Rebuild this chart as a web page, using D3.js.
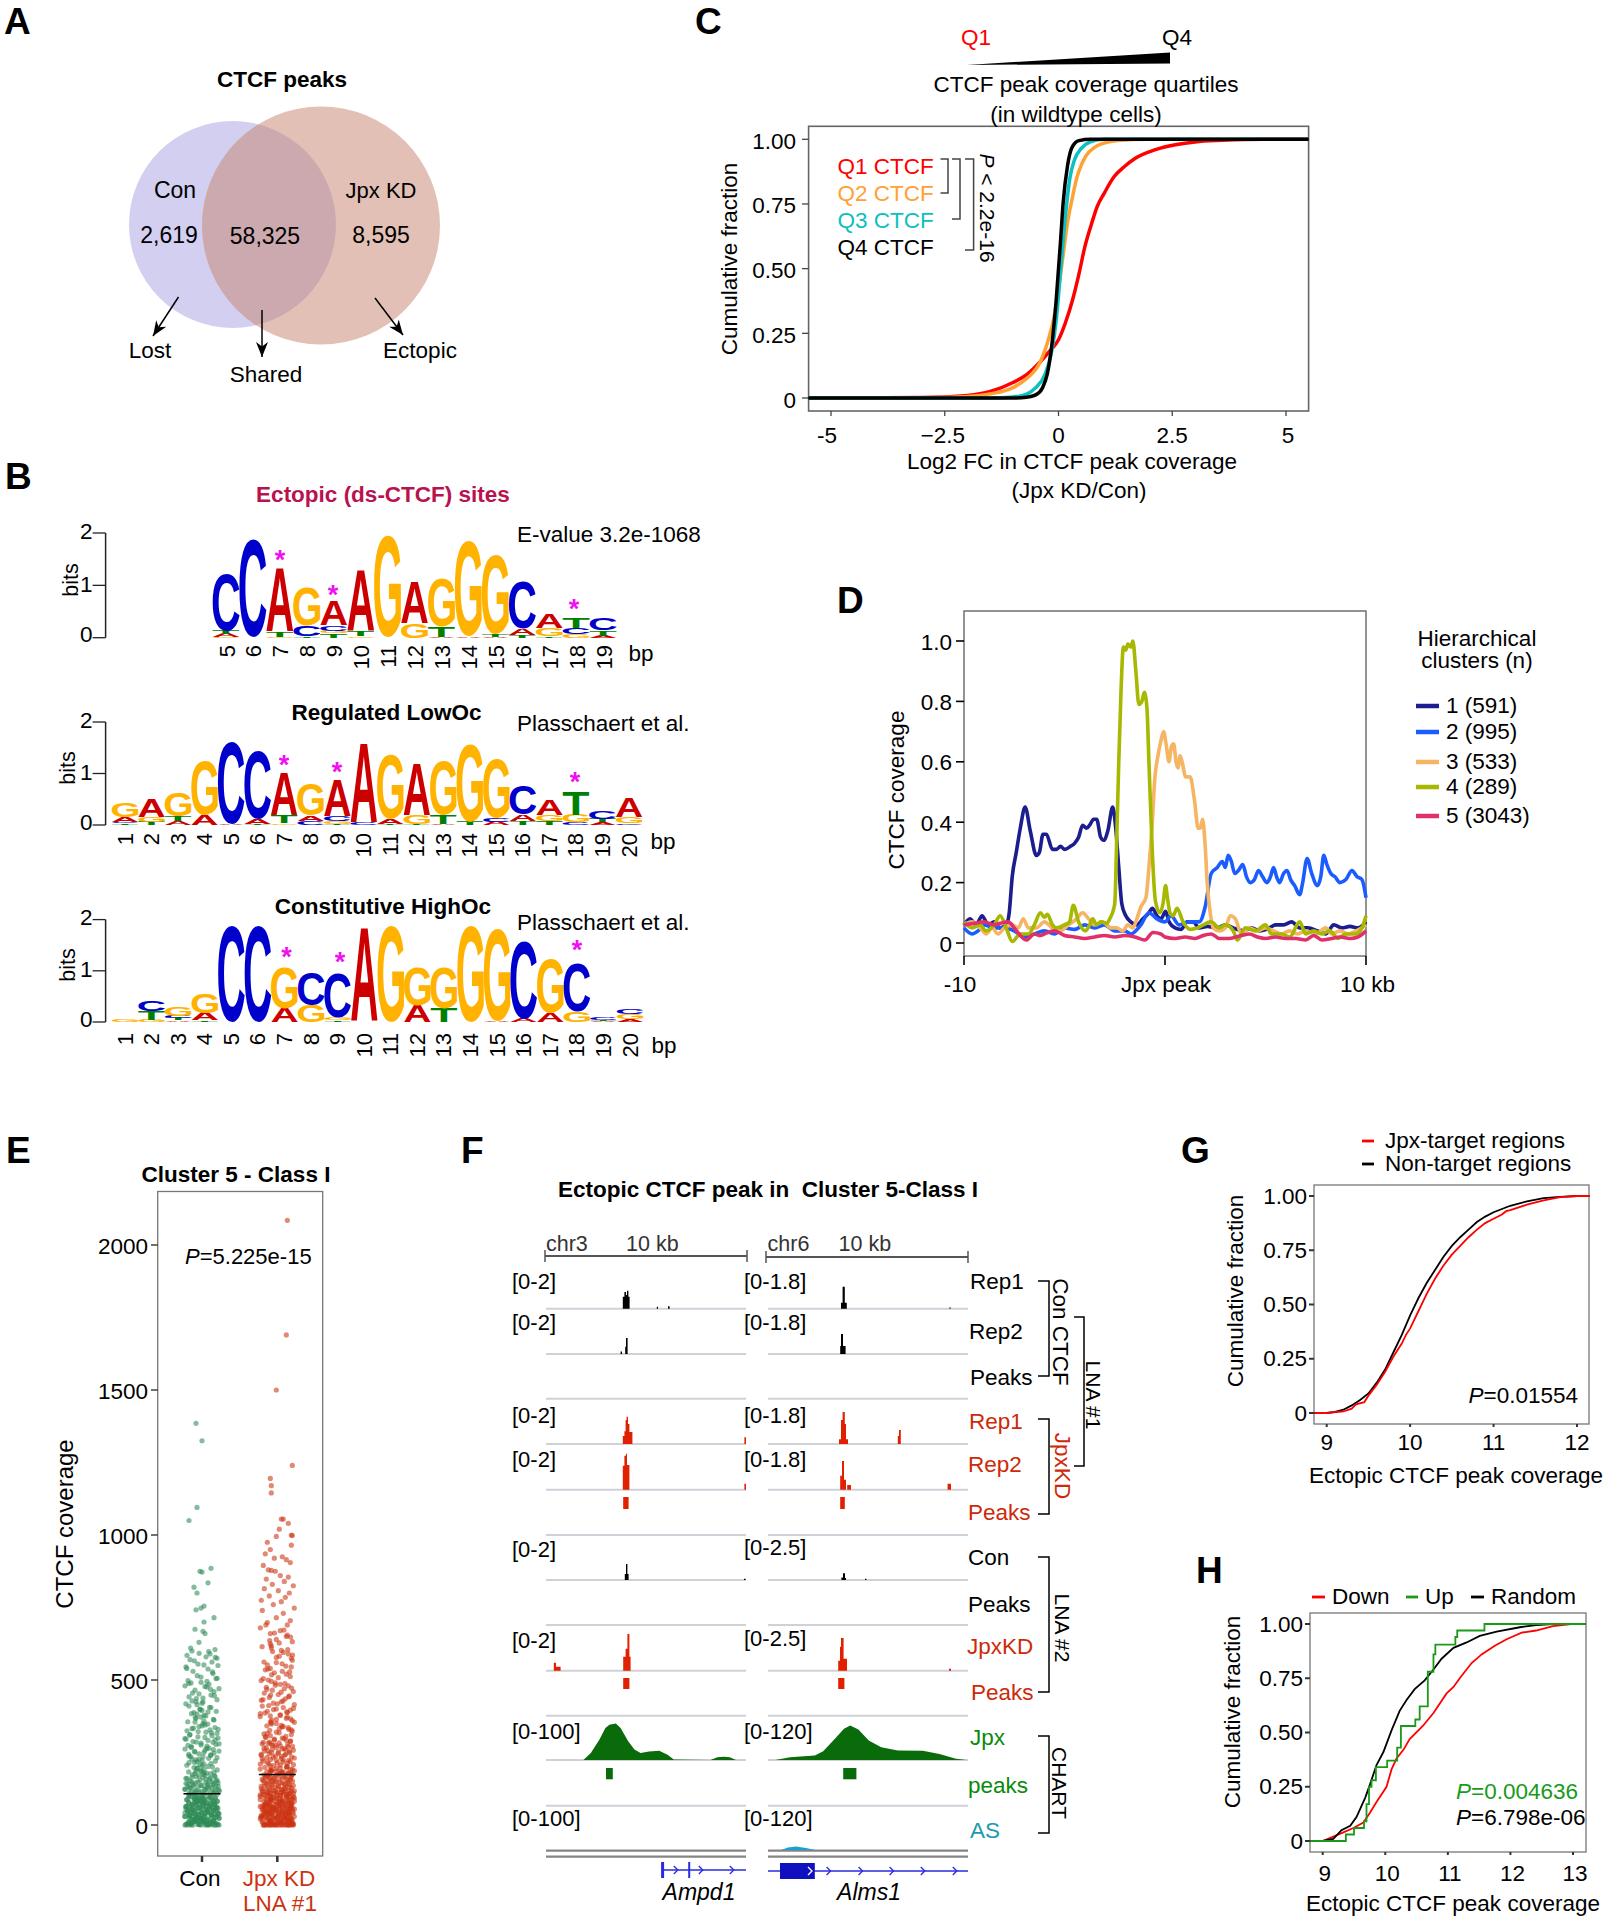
<!DOCTYPE html>
<html><head><meta charset="utf-8">
<script src="https://cdn.jsdelivr.net/npm/d3@7/dist/d3.min.js"></script>
<style>html,body{margin:0;padding:0;background:#fff}svg{display:block}text{font-family:"Liberation Sans",Arial,sans-serif}</style>
</head><body><svg id="c" width="1607" height="1920"></svg>
<script>
// ---------- data ----------
const vennCounts=["2,619","58,325","8,595"];
const logoColors={A:"#cc0000",C:"#0000cc",G:"#ffb300",T:"#008000"};
const logoEctopic=[[5,[["G",.02],["A",.06],["T",.06],["C",1.08]]],[6,[["C",1.85]]],[7,[["G",.02],["T",.1],["A",1.2]]],[8,[["T",.03],["C",.2],["G",.72]]],[9,[["T",.08],["G",.05],["C",.1],["A",.46]]],[10,[["G",.03],["T",.1],["A",1.15]]],[11,[["G",1.94]]],[12,[["G",.27],["A",.79]]],[13,[["A",.02],["T",.2],["G",.92]]],[14,[["A",.03],["G",1.8]]],[15,[["A",.02],["T",.05],["G",1.5]]],[16,[["T",.05],["A",.12],["C",.9]]],[17,[["T",.03],["G",.15],["A",.27]]],[18,[["G",.06],["C",.12],["T",.2]]],[19,[["A",.04],["T",.1],["C",.22]]]];
const logoLowOc=[[1,[["T",.03],["C",.02],["A",.1],["G",.27]]],[2,[["T",.06],["G",.1],["A",.36]]],[3,[["A",.07],["T",.1],["G",.45]]],[4,[["A",.2],["G",1.06]]],[5,[["A",.02],["C",1.58]]],[6,[["T",.02],["A",.1],["C",1.33]]],[7,[["G",.03],["T",.15],["A",.82]]],[8,[["C",.08],["A",.1],["G",.62]]],[9,[["T",.02],["G",.05],["C",.1],["A",.71]]],[10,[["C",.05],["A",1.53]]],[11,[["T",.02],["A",.1],["G",1.24]]],[12,[["T",.02],["G",.17],["A",.99]]],[13,[["A",.01],["T",.18],["G",1.05]]],[14,[["T",.06],["G",1.5]]],[15,[["A",.06],["C",.08],["G",1.14]]],[16,[["T",.08],["A",.13],["C",.55]]],[17,[["T",.07],["G",.13],["A",.3]]],[18,[["C",.05],["G",.14],["T",.46]]],[19,[["A",.05],["T",.06],["C",.16]]],[20,[["C",.03],["G",.12],["A",.37]]]];
const logoHighOc=[[1,[["G",.05]]],[2,[["G",.04],["T",.17],["C",.2]]],[3,[["A",.03],["T",.04],["C",.05],["G",.18]]],[4,[["T",.03],["A",.14],["G",.38]]],[5,[["C",1.88]]],[6,[["C",1.88]]],[7,[["A",.27],["G",.8]]],[8,[["G",.32],["C",.65]]],[9,[["T",.03],["G",.06],["C",.87]]],[10,[["A",1.81]]],[11,[["G",1.88]]],[12,[["A",.32],["G",.74]]],[13,[["T",.27],["G",.8]]],[14,[["G",1.88]]],[15,[["A",.01],["G",1.8]]],[16,[["A",.06],["C",1.53]]],[17,[["A",.18],["G",1.05]]],[18,[["G",.2],["C",.95]]],[19,[["A",.02],["T",.02],["C",.06]]],[20,[["A",.05],["G",.1],["C",.1]]]];
const cQ1=[[-5.5,0],[-3,.002],[-2,.01],[-1.5,.025],[-1,.06],[-.7,.09],[-.4,.14],[-.2,.18],[0,.225],[.15,.29],[.31,.38],[.45,.48],[.58,.585],[.72,.67],[.85,.74],[1,.79],[1.22,.855],[1.45,.895],[1.68,.926],[2.13,.96],[2.6,.98],[3,.99],[3.6,.996],[4.5,1],[5.5,1]];
const cQ2=[[-5.5,0],[-3,.001],[-2,.006],[-1.5,.016],[-1,.04],[-.7,.075],[-.4,.14],[-.2,.24],[-.1,.31],[0,.42],[.1,.55],[.2,.68],[.3,.77],[.4,.85],[.5,.9],[.6,.935],[.8,.97],[1,.985],[1.3,.995],[2,1],[5.5,1]];
const cQ3=[[-5.5,0],[-1.5,0],[-1,.004],[-.7,.015],[-.5,.04],[-.3,.09],[-.15,.18],[-.05,.3],[.05,.5],[.15,.7],[.25,.85],[.35,.92],[.5,.965],[.7,.99],[1,1],[5.5,1]];
const cQ4=[[-5.5,0],[-1,0],[-.7,.003],[-.5,.012],[-.35,.04],[-.25,.09],[-.15,.2],[-.05,.38],[.05,.62],[.1,.75],[.2,.9],[.3,.97],[.45,.995],[.7,1],[5.5,1]];
const qNames=["Q1 CTCF","Q2 CTCF","Q3 CTCF","Q4 CTCF"], qColors=["#ff0000","#ffa133","#0cc0c0","#000000"];
const d1=[[-10,.06],[-9.7,.08],[-9.4,.06],[-9.1,.09],[-8.8,.06],[-8.5,.07],[-8.2,.05],[-7.9,.06],[-7.75,.1],[-7.6,.22],[-7.4,.3],[-7.2,.38],[-6.96,.45],[-6.7,.37],[-6.4,.29],[-6.25,.3],[-6.07,.36],[-5.9,.36],[-5.6,.31],[-5.4,.31],[-5.2,.32],[-5,.31],[-4.7,.32],[-4.5,.33],[-4.3,.35],[-4.1,.39],[-3.9,.38],[-3.75,.39],[-3.55,.41],[-3.4,.41],[-3.2,.35],[-3.05,.34],[-2.85,.37],[-2.6,.45],[-2.45,.38],[-2.3,.25],[-2.15,.13],[-1.95,.09],[-1.7,.07],[-1.4,.06],[-1.1,.08],[-.8,.1],[-.63,.115],[-.4,.09],[-.2,.08],[.03,.105],[.2,.07],[.5,.05],[.8,.045],[1.1,.07],[1.4,.07],[1.7,.05],[2.1,.055],[2.6,.05],[3,.06],[3.4,.05],[3.9,.04],[4.3,.05],[4.7,.04],[5.2,.05],[5.5,.06],[5.9,.06],[6.3,.07],[6.7,.05],[7.1,.05],[7.6,.04],[8,.03],[8.4,.06],[8.8,.05],[9.2,.055],[9.6,.05],[10,.07]];
const d2=[[-10,.05],[-9.6,.03],[-9.3,.04],[-9,.06],[-8.5,.05],[-8,.05],[-7.5,.04],[-7,.02],[-6.5,.03],[-6,.04],[-5.5,.03],[-5,.05],[-4.5,.045],[-4,.06],[-3.5,.05],[-3,.06],[-2.5,.04],[-2,.04],[-1.7,.03],[-1.2,.06],[-.8,.1],[-.4,.08],[0,.07],[.3,.09],[.7,.06],[1.2,.07],[1.7,.07],[2,.12],[2.3,.23],[2.6,.25],[2.85,.27],[3,.25],[3.14,.29],[3.3,.27],[3.47,.23],[3.65,.24],[3.87,.26],[4.05,.22],[4.25,.2],[4.45,.21],[4.65,.24],[4.85,.22],[5.07,.2],[5.25,.22],[5.4,.25],[5.55,.22],[5.7,.2],[5.9,.23],[6.07,.24],[6.25,.21],[6.45,.19],[6.7,.16],[6.85,.2],[7.07,.28],[7.3,.23],[7.58,.19],[7.75,.22],[7.9,.29],[8.05,.26],[8.25,.23],[8.45,.22],[8.7,.2],[9,.21],[9.3,.24],[9.55,.22],[9.8,.21],[10,.15]];
const d3s=[[-10,.06],[-9.6,.07],[-9.2,.05],[-8.9,.03],[-8.6,.05],[-8.3,.03],[-8,.05],[-7.6,.06],[-7.3,.05],[-7.05,.08],[-6.8,.05],[-6.4,.05],[-6,.07],[-5.6,.05],[-5.2,.04],[-4.8,.06],[-4.4,.08],[-4.1,.1],[-3.8,.08],[-3.5,.06],[-3.1,.07],[-2.7,.05],[-2.4,.05],[-2.1,.04],[-1.85,.06],[-1.6,.05],[-1.4,.08],[-1.2,.12],[-.95,.15],[-.8,.25],[-.65,.38],[-.5,.55],[-.35,.62],[-.2,.67],[-.07,.7],[.05,.66],[.2,.6],[.32,.65],[.43,.66],[.55,.6],[.65,.58],[.75,.62],[.85,.6],[1.03,.55],[1.25,.55],[1.47,.47],[1.65,.38],[1.75,.38],[1.87,.41],[2,.32],[2.1,.2],[2.25,.1],[2.4,.05],[2.7,.04],[3,.05],[3.25,.09],[3.5,.08],[3.8,.03],[4.2,.05],[4.6,.04],[5,.05],[5.4,.04],[5.8,.03],[6.2,.04],[6.6,.03],[7,.04],[7.5,.03],[8,.05],[8.3,.03],[8.7,.04],[9.1,.03],[9.5,.04],[10,.06]];
const d4=[[-10,.07],[-9.6,.05],[-9.2,.06],[-8.9,.04],[-8.5,.06],[-8.2,.09],[-7.9,.05],[-7.6,.005],[-7.2,.03],[-6.8,.03],[-6.5,.06],[-6.2,.1],[-6,.085],[-5.85,.095],[-5.6,.06],[-5.4,.05],[-5,.06],[-4.75,.07],[-4.56,.125],[-4.3,.07],[-3.96,.04],[-3.75,.06],[-3.6,.08],[-3.4,.06],[-3.2,.07],[-2.9,.065],[-2.75,.08],[-2.5,.13],[-2.4,.35],[-2.3,.6],[-2.18,.85],[-2.07,.98],[-1.95,.97],[-1.85,.99],[-1.7,.98],[-1.6,1],[-1.45,.9],[-1.3,.79],[-1.15,.8],[-1.03,.83],[-.9,.78],[-.8,.6],[-.63,.3],[-.48,.14],[-.25,.1],[-.1,.13],[.03,.19],[.12,.15],[.25,.1],[.4,.09],[.6,.115],[.9,.07],[1.25,.045],[1.6,.05],[2.3,.07],[2.7,.05],[3,.06],[3.4,.04],[3.6,.01],[4,.05],[4.5,.04],[5,.06],[5.3,.03],[5.8,.03],[6.2,.02],[6.7,.07],[7,.03],[7.4,.04],[7.8,.03],[8.2,.04],[8.6,.015],[9,.03],[9.5,.03],[9.8,.05],[10,.09]];
const d5=[[-10,.06],[-9.5,.065],[-9,.07],[-8.5,.06],[-8.2,.065],[-7.8,.07],[-7.5,.05],[-7.2,.025],[-6.9,.01],[-6.5,.03],[-6.2,.025],[-6,.03],[-5.5,.04],[-5,.025],[-4.5,.02],[-4,.015],[-3.5,.02],[-3,.025],[-2.5,.02],[-2,.025],[-1.5,.02],[-1,.01],[-.6,.035],[-.2,.03],[0,.02],[.5,.015],[1,.02],[1.5,.015],[1.9,.025],[2.3,.03],[2.7,.015],[3.2,.015],[3.8,.025],[4.2,.03],[4.6,.02],[5,.015],[5.5,.02],[6,.015],[6.5,.015],[7,.01],[7.4,.025],[7.8,.01],[8.3,.015],[8.7,.02],[9.2,.015],[9.6,.02],[10,.04]];
const dNames=["1 (591)","2 (995)","3 (533)","4 (289)","5 (3043)"], dColors=["#1c1d8e","#1a5cff","#f5b562","#a6b800","#e0306a"];
const eCon=[1385,1325,1095,1050,885,875,872,835,820,800,755,748,742,715,700,675,668,660,630,605,600,590,585,580,575,570,562,555,550,545,538,530,522,510,505,498,495,490,485,480,478,470,465,460,452,448,442,438,432,428,425,420,415,410,405,400,395,390,388,382,378,372,368,362,358,355,350,345,340,336,332,328,325,320,316,312,308,304,300,296,292,288,285,282,278,275,272,268,265,262,258,255,252,248,245,242,238,235,232,228,225,222,218,215,212,208,205,202,198,195,192,188,185,182,180,178,175,172,170,168,165,162,160,158,155,153,150,148,146,144,142,140,138,136,134,132,130,128,126,124,122,120,118,116,114,112,110,108,106,104,102,100,98,96,95,93,91,90,88,86,85,83,81,80,78,76,75,73,72,70,68,67,65,64,62,61,60,58,57,55,54,52,51,50,48,47,46,44,43,42,40,39,38,36,35,34,32,31,30,29,28,26,25,24,23,22,21,20,19,18,17,16,15,14,13,12,11,10,9,8,7,6,5,4,4,3,3,2,2,1,1,0,0,0,0,0,0,0,0,0,0,0];
const eConExtra=[610,598,592,578,566,552,540,528,515,506,492,488,476,468,455,446,436,424,418,406,398,392,384,376,370,364,356,348,342,334,330,322,318,310,302,298,294,286,280,276,270,264,260,254,250,244,240,236,230,226,220,216,210,206,200,196,190,186,183,179,176,173,169,166,163,161,157,154,151,149,147,145,143,141,139,137,135,133,131,129,127,125,123,121,119,117,115,113,111,109,107,105,103,101,99,97,95,93,91,89,87,85,83,81,79,77,75,73,71,69,67,65,63,61,59,57,55,53,51,49,47,45,43,41,39,37,35,33,31,29,27,25,23,21,19,17,15,13,11,9,7,5,3,1,94,92,90,88,86,84,82,80,78,76,74,72,70,68,66,64,62,60,58,56,54,52,50,48,46,44,42,40,38,36,34,32,30,28,26,24,22,20,18,16,14,12,10,8,6,4,2,0];
const eJpx=[2085,1690,1500,1240,1195,1170,1145,1055,1055,1040,1020,1000,998,995,975,965,950,935,925,920,915,905,895,880,878,875,860,855,848,840,830,825,815,808,800,790,785,775,770,760,748,740,730,715,705,698,690,680,670,660,655,650,640,632,625,618,610,602,595,590,582,575,568,560,552,545,540,535,530,525,520,512,505,500,495,490,485,480,475,470,465,460,455,450,445,440,435,430,425,420,415,410,405,400,396,392,388,384,380,376,372,368,364,360,356,352,348,344,340,336,332,328,324,320,316,312,308,304,300,296,292,288,285,282,279,276,273,270,267,264,261,258,255,252,249,246,243,240,237,234,231,228,225,222,219,216,213,210,207,204,201,198,195,192,190,188,186,184,182,180,178,176,174,172,170,168,166,164,162,160,158,156,154,152,150,148,146,144,142,140,138,136,134,132,130,128,126,124,122,120,118,116,114,112,110,108,106,104,102,100,98,96,94,92,90,88,86,84,82,80,78,76,74,72,70,68,66,64,62,60,58,56,54,52,50,49,48,46,45,44,42,41,40,38,37,36,34,33,32,30,29,28,26,25,24,23,22,21,20,19,18,17,16,15,14,13,12,11,10,9,8,7,6,5,4,3,3,2,2,1,1,0,0,0,0,0,0,0,0,0,0,0,0,0,0,0];
const eJpxExtra=[690,672,662,648,636,628,615,605,598,586,578,562,556,548,538,528,518,508,498,488,482,472,468,458,448,442,432,428,418,412,402,398,390,386,378,374,366,362,354,350,342,338,330,326,318,314,306,302,298,294,290,286,283,280,277,274,271,268,265,262,259,256,253,250,247,244,241,238,235,232,229,226,223,220,217,214,211,208,205,202,199,196,193,191,189,187,185,183,181,179,177,175,173,171,169,167,165,163,161,159,157,155,153,151,149,147,145,143,141,139,137,135,133,131,129,127,125,123,121,119,117,115,113,111,109,107,105,103,101,99,97,95,93,91,89,87,85,83,81,79,77,75,73,71,69,67,65,63,61,59,57,55,53,51,47,43,39,35,31,27,120,118,116,114,112,110,108,106,104,102,100,98,96,94,92,90,88,86,84,82,80,78,76,74,72,70,68,66,64,62,60,58,56,54,52,50,48,46,44,42,40,38,36,34,32,30,28,26,24,22,20,18,16,14,12,10,8,6,4,2,0,70,67,64,61,58,55,52,49,46,43,40,37,34,31,28,25,22,19,16,13,10,7,4,1,0,0,0];
const jitterCon=[-6,0,-5,-13,9,-2,0,6,-8,-5,2,-1,-6,12,2,-7,1,3,-3,13,-10,8,-15,4,15,-12,10,-4,16,-16,6,-9,11,-1,14,-14,5,-11,7,-17,3,17,-7,12,-3,9,-13,1,15,-10];
const jitterJpx=[10,9,-1,15,-7,-6,-6,4,6,11,2,14,15,-1,-10,14,-7,-12,5,-3,9,13,-14,-9,-6,-2,3,11,-11,7,-5,16,-13,1,12,-8,8,-16,4,-4,17,-15,6,-1,13,-10,10,-17,3,-7];
const jitterExtra=[-12,7,-3,14,-8,2,-16,11,-5,16,-1,-14,5,9,-10,13,-6,1,-17,8,-2,15,-11,4,-7,12,-15,6,0,-9,17,-4,10,-13,3,-18,14,-6,18,-1,-11,5,12,-8,2,-14,9];
const eMedian=[108,174];
const gJpx=[[8.85,0],[9,0],[9.2,.007],[9.3,.02],[9.35,.04],[9.45,.05],[9.5,.08],[9.6,.13],[9.7,.19],[9.8,.26],[9.9,.32],[9.95,.36],[10,.39],[10.1,.47],[10.15,.51],[10.2,.55],[10.3,.62],[10.4,.68],[10.5,.73],[10.6,.77],[10.7,.81],[10.8,.845],[10.9,.875],[11,.895],[11.1,.915],[11.15,.93],[11.2,.935],[11.4,.96],[11.6,.98],[11.8,.995],[12,1],[12.15,1]];
const gNon=[[8.85,0],[9,0],[9.1,.005],[9.2,.015],[9.3,.035],[9.4,.06],[9.5,.09],[9.6,.14],[9.7,.2],[9.8,.28],[9.9,.36],[10,.45],[10.1,.53],[10.2,.6],[10.3,.66],[10.4,.72],[10.5,.77],[10.6,.81],[10.7,.845],[10.8,.88],[10.9,.905],[11,.925],[11.2,.955],[11.4,.975],[11.6,.99],[11.8,.996],[12,1],[12.15,1]];
const hDown=[[8.8,0],[9,0],[9.17,.02],[9.33,.04],[9.49,.06],[9.65,.085],[9.755,.13],[9.86,.18],[10.02,.25],[10.1,.33],[10.18,.38],[10.29,.42],[10.39,.47],[10.6,.53],[10.77,.59],[10.98,.68],[11.09,.71],[11.19,.75],[11.38,.82],[11.54,.86],[11.75,.9],[11.94,.93],[12.18,.96],[12.41,.97],[12.68,.99],[12.97,1],[13.2,1]];
const hRandom=[[8.8,0],[9,0],[9.17,.01],[9.3,.05],[9.44,.07],[9.54,.11],[9.68,.2],[9.755,.26],[9.86,.35],[9.97,.41],[10.1,.51],[10.23,.6],[10.34,.65],[10.47,.7],[10.63,.74],[10.77,.79],[10.9,.84],[11.09,.89],[11.3,.915],[11.51,.945],[11.78,.965],[12.15,.985],[12.41,.995],[12.68,1],[13.2,1]];
const hUp=[[8.8,0],[9.37,.03],[9.5,.06],[9.66,.09],[9.7,.17],[9.74,.25],[9.78,.28],[9.85,.34],[10.03,.37],[10.19,.43],[10.25,.53],[10.48,.56],[10.55,.62],[10.68,.78],[10.77,.86],[10.8,.905],[11.12,.94],[11.15,.97],[11.585,1],[13.2,1]];
const fBaselines=[1308.7,1354,1398.7,1444,1489.7,1535,1580,1625,1670.7,1715.7,1760,1805.7];
const blk="#000",rd="#e02000",gr="#0a6b0a";
const fLeft=[
 {b:1308.7,c:blk,s:[[3.84,.3],[3.92,.42],[4.0,.34],[4.05,.45],[4.12,.3],[4.18,0],[5.54,.05],[5.6,0],[6.1,.06],[6.18,0]]},
 {b:1354,c:blk,s:[[3.73,.06],[3.8,0],[3.96,.18],[4.0,.4],[4.08,0]]},
 {b:1444,c:rd,s:[[3.84,.2],[3.92,.32],[3.98,.6],[4.03,.68],[4.1,.5],[4.17,.3],[4.32,0],[9.92,.17],[10,0]]},
 {b:1489.7,c:rd,s:[[3.84,.6],[3.92,.85],[4.0,.9],[4.05,.62],[4.17,0],[9.92,.15],[10,0]]},
 {b:1580,c:blk,s:[[3.94,.15],[4.0,.4],[4.07,.15],[4.13,0],[9.9,.03],[9.98,0]]},
 {b:1670.7,c:rd,s:[[.39,.2],[.5,.1],[.73,0],[3.86,.35],[3.98,.55],[4.07,.92],[4.17,.35],[4.23,0]]}];
const fRight=[
 {b:1308.7,c:blk,s:[[3.65,.15],[3.73,.55],[3.84,.15],[3.94,0],[9.07,.03],[9.13,0]]},
 {b:1354,c:blk,s:[[3.61,.2],[3.65,.5],[3.75,.2],[3.88,0]]},
 {b:1444,c:rd,s:[[3.55,.12],[3.65,.6],[3.73,.8],[3.84,.5],[3.9,.12],[4.0,0],[6.49,.2],[6.55,.35],[6.64,0]]},
 {b:1489.7,c:rd,s:[[3.61,.35],[3.7,.72],[3.8,.25],[3.9,0],[3.96,.12],[4.15,0],[8.98,.15],[9.15,0]]},
 {b:1580,c:blk,s:[[3.67,.06],[3.75,.17],[3.85,.05],[3.9,0],[4.85,.03],[4.92,0]]},
 {b:1670.7,c:rd,s:[[3.51,.25],[3.6,.6],[3.65,.82],[3.78,.3],[3.95,0],[9.05,.05],[9.15,0]]}];
const fChartLeft=[[1.87,0],[2.24,.175],[2.66,.5],[2.97,.8],[3.17,.88],[3.49,.91],[3.73,.8],[4.11,.47],[4.42,.26],[4.73,.175],[5.15,.21],[5.66,.23],[6.08,.13],[6.39,.01],[8.22,0],[8.57,.07],[8.88,.08],[9.19,.07],[9.5,0]];
const fChartRight=[[.37,0],[1.1,.07],[2.34,.11],[2.76,.22],[3.38,.55],[3.8,.78],[4.11,.86],[4.52,.76],[5.04,.49],[5.66,.32],[6.49,.24],[7.74,.23],[8.57,.15],[9.4,.03],[9.92,0]];
const fAsRight=[[.65,0],[1,.06],[1.4,.09],[1.9,.05],[2.35,0]];
const fBarsLeft=[[3.86,4.13,1497,1509,rd],[3.86,4.17,1678,1689,rd],[3.0,3.34,1768,1779.3,gr]];
const fBarsRight=[[3.61,3.84,1497,1509,rd],[3.51,3.82,1678,1689,rd],[3.76,4.42,1768,1779.3,gr]];
const fRanges=[[1281,"[0-2]","[0-1.8]"],[1322,"[0-2]","[0-1.8]"],[1415,"[0-2]","[0-1.8]"],[1459,"[0-2]","[0-1.8]"],[1549,"[0-2]","[0-2.5]"],[1640,"[0-2]","[0-2.5]"],[1731,"[0-100]","[0-120]"],[1818,"[0-100]","[0-120]"]];
const fTrackNames=[["Rep1",970,1281,"#000"],["Rep2",969,1331,"#000"],["Peaks",970,1377,"#000"],["Rep1",969,1421,"#cc2a08"],["Rep2",968,1464,"#cc2a08"],["Peaks",968,1512,"#cc2a08"],["Con",968,1557,"#000"],["Peaks",968,1604,"#000"],["JpxKD",967,1646,"#cc2a08"],["Peaks",971,1692,"#cc2a08"],["Jpx",970,1737,"#0a8a0a"],["peaks",968,1785,"#0a8a0a"],["AS",970,1830,"#1a9aaa"]];

// ---------- helpers ----------
const svg=d3.select("#c");
const FONT="Liberation Sans";
function T(x,y,s,o={}){
  const e=svg.append("text").attr("x",x).attr("y",y).attr("dominant-baseline",o.base||"central")
   .attr("text-anchor",o.a||"middle").attr("font-size",o.fs||22.5).attr("fill",o.c||"#000").text(s);
  if(o.b)e.attr("font-weight","bold"); if(o.i)e.attr("font-style","italic");
  if(o.r!=null)e.attr("transform",`rotate(${o.r},${x},${y})`);
  return e;
}
function PT(x,y,s,o={}){
  const e=T(x,y,"",o); e.append("tspan").attr("font-style","italic").text("P"); e.append("tspan").text(s); return e;
}
function L(x1,y1,x2,y2,c="#000",w=1.5){svg.append("line").attr("x1",x1).attr("y1",y1).attr("x2",x2).attr("y2",y2).attr("stroke",c).attr("stroke-width",w);}
function frame(x0,y0,x1,y1,c="#666",w=1.6){svg.append("rect").attr("x",x0).attr("y",y0).attr("width",x1-x0).attr("height",y1-y0).attr("fill","none").attr("stroke",c).attr("stroke-width",w);}
function arrow(x1,y1,x2,y2){
  L(x1,y1,x2,y2,"#000",1.5);
  const a=Math.atan2(y2-y1,x2-x1),l=15,w=6;
  const p=[[x2,y2],[x2-l*Math.cos(a)+w*Math.sin(a),y2-l*Math.sin(a)-w*Math.cos(a)],[x2-.7*l*Math.cos(a),y2-.7*l*Math.sin(a)],[x2-l*Math.cos(a)-w*Math.sin(a),y2-l*Math.sin(a)+w*Math.cos(a)]];
  svg.append("polygon").attr("points",p.join(" ")).attr("fill","#000");
}
function bracket(x0,xv,y0,y1,c="#000",w=1.5){svg.append("path").attr("d",`M${x0},${y0}H${xv}V${y1}H${x0}`).attr("fill","none").attr("stroke",c).attr("stroke-width",w);}
[["A",4,34],["C",695,34],["B",5,489],["D",837,613],["E",6,1163],["F",461,1163],["G",1181,1163],["H",1196,1583]].forEach(d=>T(d[1],d[2],d[0],{a:"start",b:1,fs:37,base:"auto"}));

// ---------- A ----------
svg.append("defs").append("clipPath").attr("id","vc").append("circle").attr("cx",232.5).attr("cy",224.5).attr("r",103.5);
svg.append("circle").attr("cx",232.5).attr("cy",224.5).attr("r",103.5).attr("fill","#d3cff0");
svg.append("circle").attr("cx",321).attr("cy",225.5).attr("r",119).attr("fill","#e3c0b5");
svg.append("circle").attr("cx",321).attr("cy",225.5).attr("r",119).attr("fill","#cba9ae").attr("clip-path","url(#vc)");
T(282,79,"CTCF peaks",{b:1});
T(175,190,"Con",{fs:23});T(381,190,"Jpx KD",{fs:22});
T(169,235,vennCounts[0],{fs:23});T(265,236,vennCounts[1],{fs:23});T(381,235,vennCounts[2],{fs:23});
T(150,350,"Lost");T(266,374,"Shared");T(420,350,"Ectopic");
arrow(178.5,297,153,336);arrow(262,310,262,357);arrow(375,298,403,335);

// ---------- B ----------
const cv=document.createElement("canvas").getContext("2d");cv.font="bold 200px "+FONT;
function logo(data,o){
  const y=d3.scaleLinear().domain([0,2]).range([o.y0,o.y2]);
  const x=d3.scaleLinear().domain([o.firstPos,20]).range([o.x1,o.x20]);
  const step=x(o.firstPos+1)-x(o.firstPos);
  data.forEach(([pos,stack])=>{
    let acc=0;
    stack.forEach(([ch,h])=>{
      const m=cv.measureText(ch),il=-m.actualBoundingBoxLeft,iw=m.actualBoundingBoxRight+m.actualBoundingBoxLeft,
            ih=m.actualBoundingBoxAscent+m.actualBoundingBoxDescent;
      const w=step*1.0,py=y(acc),sh=y(acc)-y(acc+h);
      svg.append("text").attr("font-weight","bold").attr("font-size",200).attr("fill",logoColors[ch]).text(ch)
        .attr("transform",`translate(${x(pos)-w/2},${py}) scale(${w/iw},${sh/ih}) translate(${-il},${-m.actualBoundingBoxDescent})`);
      acc+=h;
    });
    T(x(pos)+o.labDx,o.labY,pos,{r:-90,a:"end",fs:22});
  });
  L(o.ax,o.y2,o.ax,o.y0,"#222",1.5);
  [0,1,2].forEach(v=>{L(o.ax-13,y(v),o.ax,y(v),"#222",1.3);T(o.ax-13,y(v)+(v==2?-2:v==0?-3:-1),v,{a:"end"});});
  T(o.bitsX,o.bitsY,"bits",{r:-90,fs:21.5});
  T(o.bpX,o.bpY,"bp");
  o.stars.forEach(s=>T(s[0],s[1]+3,"*",{c:"#ee10ee",b:1,fs:27}));
}
logo(logoEctopic,{firstPos:5,x1:226,x20:630,y0:637.7,y2:533,ax:105.6,labY:645,labDx:1,bitsX:71,bitsY:580,bpX:641,bpY:653,stars:[[280,557],[333,592],[574,606]]});
logo(logoLowOc,{firstPos:1,x1:125,x20:629,y0:825,y2:722,ax:105.6,labY:833,labDx:0,bitsX:68,bitsY:768,bpX:663,bpY:841,stars:[[284,762],[337,769],[575,779]]});
logo(logoHighOc,{firstPos:1,x1:125,x20:630,y0:1022,y2:919.6,ax:105.6,labY:1033,labDx:0,bitsX:68,bitsY:965,bpX:664,bpY:1045,stars:[[286.5,954],[340,959],[577,947]]});
T(383,494,"Ectopic (ds-CTCF) sites",{b:1,c:"#b8124f"});
T(517,534,"E-value 3.2e-1068",{a:"start"});
T(386.6,712,"Regulated LowOc",{b:1});T(517,723,"Plasschaert et al.",{a:"start"});
T(383,906,"Constitutive HighOc",{b:1});T(517,922,"Plasschaert et al.",{a:"start"});

// ---------- C ----------
{
 const x=d3.scaleLinear().domain([-5,5]).range([831,1286]),y=d3.scaleLinear().domain([0,1]).range([398,139.3]);
 frame(808.6,126.3,1308.6,411);
 [-5,-2.5,0,2.5,5].forEach((v,i)=>{L(x(v),411,x(v),416,"#444",1.3);T(x(v)+[-4,-2,0,0,2][i],435,["-5","−2.5","0","2.5","5"][i]);});
 [[0,"0"],[.25,"0.25"],[.5,"0.50"],[.75,"0.75"],[1,"1.00"]].forEach(d=>{L(802,y(d[0]),808.6,y(d[0]),"#444",1.3);T(796,y(d[0])+2,d[1],{a:"end"});});
 const ln=d3.line().x(d=>x(d[0])).y(d=>y(d[1])).curve(d3.curveMonotoneX);
 [cQ1,cQ2,cQ3,cQ4].forEach((c,i)=>svg.append("path").attr("d",ln(c)).attr("fill","none").attr("stroke",qColors[i]).attr("stroke-width",3.5));
 [166,193,220,247].forEach((yy,i)=>T(837.6,yy,qNames[i],{a:"start",c:qColors[i]}));
 bracket(940.5,948,159,193,"#444");bracket(952,960,159,219,"#444");bracket(965,973.6,159,250,"#444");
 PT(988,208," < 2.2e-16",{r:90,fs:21});
 T(976,37,"Q1",{c:"#ff0000"});T(1177,37,"Q4");
 svg.append("polygon").attr("points","967,65 1170,52.5 1170,63.5").attr("fill","#000");
 T(1086,84,"CTCF peak coverage quartiles");T(1076,114,"(in wildtype cells)");
 T(1072,461,"Log2 FC in CTCF peak coverage");T(1079,490,"(Jpx KD/Con)");
 T(729,259,"Cumulative fraction",{r:-90});
}

// ---------- D ----------
{
 const x=d3.scaleLinear().domain([-10,10]).range([964,1366]),y=d3.scaleLinear().domain([0,1]).range([943,641]);
 frame(964,611,1366,956,"#666",1.4);
 [-10,0,10].forEach(v=>L(x(v),956,x(v),965,"#000",1.6));
 T(960,984,"-10");T(1166,984,"Jpx peak");T(1367.6,984,"10 kb");
 [0,.2,.4,.6,.8,1].forEach(v=>{L(956,y(v),964,y(v),"#000",1.6);T(952,y(v)+1,v==0?"0":v.toFixed(1),{a:"end"});});
 const ln=d3.line().x(d=>x(d[0])).y(d=>y(d[1])).curve(d3.curveMonotoneX);
 [d1,d2,d3s,d4,d5].forEach((c,i)=>svg.append("path").attr("d",ln(c)).attr("fill","none").attr("stroke",dColors[i]).attr("stroke-width",3.6));
 T(896,790,"CTCF coverage",{r:-90});
 T(1477,638,"Hierarchical");T(1477,660,"clusters (n)");
 [706,732,762,787,816].forEach((yy,i)=>{L(1416,yy,1439,yy,dColors[i],4.5);T(1446,yy-1,dNames[i],{a:"start"});});
}

// ---------- E ----------
{
 const y=d3.scaleLinear().domain([0,2000]).range([1825,1245]);
 const cx=d3.scalePoint().domain(["Con","Jpx"]).range([202,277.3]);
 frame(157.7,1191.5,322.7,1856,"#777",1.3);
 [0,500,1000,1500,2000].forEach(v=>{L(151,y(v),157.7,y(v),"#333",1.4);T(148,y(v)+1,v,{a:"end"});});
 [202,277.3].forEach(v=>L(v,1856,v,1862,"#333",2.5));
 [[eCon,jitterCon,eConExtra,"Con","#2e8b57"],[eJpx,jitterJpx,eJpxExtra,"Jpx","#cc3311"]].forEach(([vals,j,extra,k,col],gi)=>{
   const g=svg.append("g");
   g.selectAll("circle.a").data(vals).join("circle").attr("class","a").attr("cx",(d,i)=>cx(k)+j[i%j.length]).attr("cy",d=>y(d)).attr("r",2.6).attr("fill",col).attr("fill-opacity",.58);
   g.selectAll("circle.b").data(extra).join("circle").attr("class","b").attr("cx",(d,i)=>cx(k)+jitterExtra[i%jitterExtra.length]*.95).attr("cy",d=>y(d)).attr("r",2.6).attr("fill",col).attr("fill-opacity",.58);
   L(cx(k)-18.5,y(eMedian[gi]),cx(k)+18.5,y(eMedian[gi]),"#000",1.4);
 });
 T(236,1174,"Cluster 5 - Class I",{b:1});
 PT(185,1256,"=5.225e-15",{fs:22,a:"start"});
 T(64,1524,"CTCF coverage",{r:-90,fs:24});
 T(200,1878,"Con");T(279,1878,"Jpx KD",{c:"#cc3311"});T(280,1903,"LNA #1",{c:"#cc3311"});
}

// ---------- F ----------
{
 const xl=d3.scaleLinear().domain([0,10]).range([546,746]),xr=d3.scaleLinear().domain([0,10]).range([768,968]);
 const h=d3.scaleLinear().domain([0,1]).range([0,40]);
 T(768,1189,"Ectopic CTCF peak in\u00a0\u00a0Cluster 5-Class I",{b:1,fs:22.5});
 const sbc="#555";
 L(545,1256,747,1256,sbc,2);L(545,1250,545,1262,sbc,1.5);L(747,1250,747,1262,sbc,1.5);
 L(766,1257,968,1257,sbc,2);L(766,1251,766,1263,sbc,1.5);L(968,1251,968,1263,sbc,1.5);
 T(546,1244,"chr3",{a:"start",fs:21.5,c:"#333"});T(626,1244,"10 kb",{a:"start",fs:21.5,c:"#333"});
 T(767.6,1244,"chr6",{a:"start",fs:21.5,c:"#333"});T(838.5,1244,"10 kb",{a:"start",fs:21.5,c:"#333"});
 fBaselines.forEach(b=>{L(xl(0),b,xl(10),b,"#d0d0d8",2);L(xr(0),b,xr(10),b,"#d0d0d8",2);});
 [1850.7,1856.7].forEach(b=>{L(xl(0),b,xl(10),b,"#858585",2.2);L(xr(0),b,xr(10),b,"#858585",2.2);});
 fRanges.forEach(r=>{T(512,r[0],r[1],{a:"start",fs:22});T(744,r[0]-(r[2]=="[0-2.5]"?2:0),r[2],{a:"start",fs:22});});
 function tr(list,x){list.forEach(t=>{const ar=d3.area().x(d=>x(d[0])).y0(t.b).y1(d=>t.b-h(d[1])).curve(d3.curveStepAfter);
   svg.append("path").attr("d",ar(t.s)).attr("fill",t.c);});}
 tr(fLeft,xl);tr(fRight,xr);
 const sm=(x,b)=>d3.area().x(d=>x(d[0])).y0(b).y1(d=>b-h(d[1]));
 svg.append("path").attr("d",sm(xl,1760)(fChartLeft)).attr("fill",gr);
 svg.append("path").attr("d",sm(xr,1760)(fChartRight)).attr("fill",gr);
 svg.append("path").attr("d",sm(xr,1850)(fAsRight)).attr("fill","#1aa0d0");
 [[fBarsLeft,xl],[fBarsRight,xr]].forEach(([bs,x])=>bs.forEach(b=>svg.append("rect").attr("x",x(b[0])).attr("width",x(b[1])-x(b[0])).attr("y",b[2]).attr("height",b[3]-b[2]).attr("fill",b[4])));
 const gb="#2a2ae0";
 L(xl(5.77),1870,xl(10),1870,gb,1.5);L(xr(0),1871,xr(10),1871,gb,1.5);
 L(xl(5.83),1862,xl(5.83),1878,gb,3);L(xl(7.16),1862,xl(7.16),1878,gb,2);
 svg.append("rect").attr("x",xr(.6)).attr("width",xr(2.34)-xr(.6)).attr("y",1863).attr("height",16).attr("fill","#1010c0");
 const chev=(x,y,c)=>svg.append("path").attr("d",`M${x-2},${y-4}L${x+2},${y}L${x-2},${y+4}`).attr("fill","none").attr("stroke",c).attr("stroke-width",1.3);
 [6.49,7.74,9.29].forEach(k=>chev(xl(k),1870,gb));
 chev(xr(2.1),1871,"#fff");[3.03,4.63,6.18,7.74,9.34].forEach(k=>chev(xr(k),1871,gb));
 T(699,1892,"Ampd1",{i:1,fs:23});T(869,1892,"Alms1",{i:1,fs:23});
 fTrackNames.forEach(n=>T(n[1],n[2],n[0],{a:"start",c:n[3]}));
 bracket(1038,1049,1281,1376);bracket(1074,1084,1317,1466);bracket(1038,1049,1419,1514);bracket(1038,1049,1557,1692);bracket(1038,1049,1736,1833);
 T(1060,1332,"Con CTCF",{r:90});T(1093,1395,"LNA #1",{r:90,fs:21});
 T(1062,1466,"JpxKD",{r:90,c:"#cc2a08"});T(1062,1628,"LNA #2",{r:90,fs:21});T(1059.5,1783,"CHART",{r:90,fs:21});
}

// ---------- G ----------
function ecdfAxes(o){
 const x=d3.scaleLinear().domain(o.xd).range(o.xr),y=d3.scaleLinear().domain([0,1]).range([o.y0,o.y1]);
 frame(o.fx0,o.fy0,o.fx1,o.fy1,"#777",1.3);
 o.xt.forEach(v=>{L(x(v),o.fy1,x(v),o.fy1+3,"#333",2);T(x(v)+o.dx,o.xlY,v);});
 [[0,"0"],[.25,"0.25"],[.5,"0.50"],[.75,"0.75"],[1,"1.00"]].forEach(d=>{L(o.fx0-5,y(d[0]),o.fx0,y(d[0]),"#333",2);T(o.fx0-7,y(d[0]),d[1],{a:"end"});});
 return [x,y];
}
{
 const [x,y]=ecdfAxes({xd:[9,12],xr:[1326.7,1577],y0:1413,y1:1196,fx0:1314,fx1:1589,fy0:1185,fy1:1424,xt:[9,10,11,12],xlY:1442,dx:0});
 const ln=d3.line().x(d=>x(d[0])).y(d=>y(d[1]));
 svg.append("path").attr("d",ln(gNon)).attr("fill","none").attr("stroke","#000").attr("stroke-width",1.8);
 svg.append("path").attr("d",ln(gJpx)).attr("fill","none").attr("stroke","#ff0000").attr("stroke-width",1.8);
 L(1362,1141,1374,1141,"#ff0000",2.8);L(1362,1164,1374,1164,"#000",2.8);
 T(1385,1140,"Jpx-target regions",{a:"start"});T(1385,1163,"Non-target regions",{a:"start"});
 PT(1578,1395,"=0.01554",{a:"end"});
 T(1456,1475,"Ectopic CTCF peak coverage");T(1235,1291,"Cumulative fraction",{r:-90});
}
// ---------- H ----------
{
 const [x,y]=ecdfAxes({xd:[9,13],xr:[1322.7,1573],y0:1841,y1:1624,fx0:1310,fx1:1586,fy0:1613,fy1:1852,xt:[9,10,11,12,13],xlY:1873,dx:2});
 const ln=d3.line().x(d=>x(d[0])).y(d=>y(d[1]));
 svg.append("path").attr("d",ln(hDown)).attr("fill","none").attr("stroke","#ff0000").attr("stroke-width",1.8);
 svg.append("path").attr("d",ln(hRandom)).attr("fill","none").attr("stroke","#000").attr("stroke-width",1.8);
 svg.append("path").attr("d",d3.line().x(d=>x(d[0])).y(d=>y(d[1])).curve(d3.curveStepAfter)(hUp)).attr("fill","none").attr("stroke","#1a9a1a").attr("stroke-width",1.8);
 L(1312,1597,1325,1597,"#ff0000",2.8);L(1406,1597,1418,1597,"#1a9a1a",2.8);L(1471,1597,1484,1597,"#000",2.8);
 T(1332,1596,"Down",{a:"start"});T(1425,1596,"Up",{a:"start"});T(1491,1596,"Random",{a:"start"});
 PT(1456,1791,"=0.004636",{a:"start",c:"#1a9a1a"});PT(1456,1817,"=6.798e-06",{a:"start"});
 T(1453,1903,"Ectopic CTCF peak coverage");T(1232,1712,"Cumulative fraction",{r:-90});
}
</script></body></html>
